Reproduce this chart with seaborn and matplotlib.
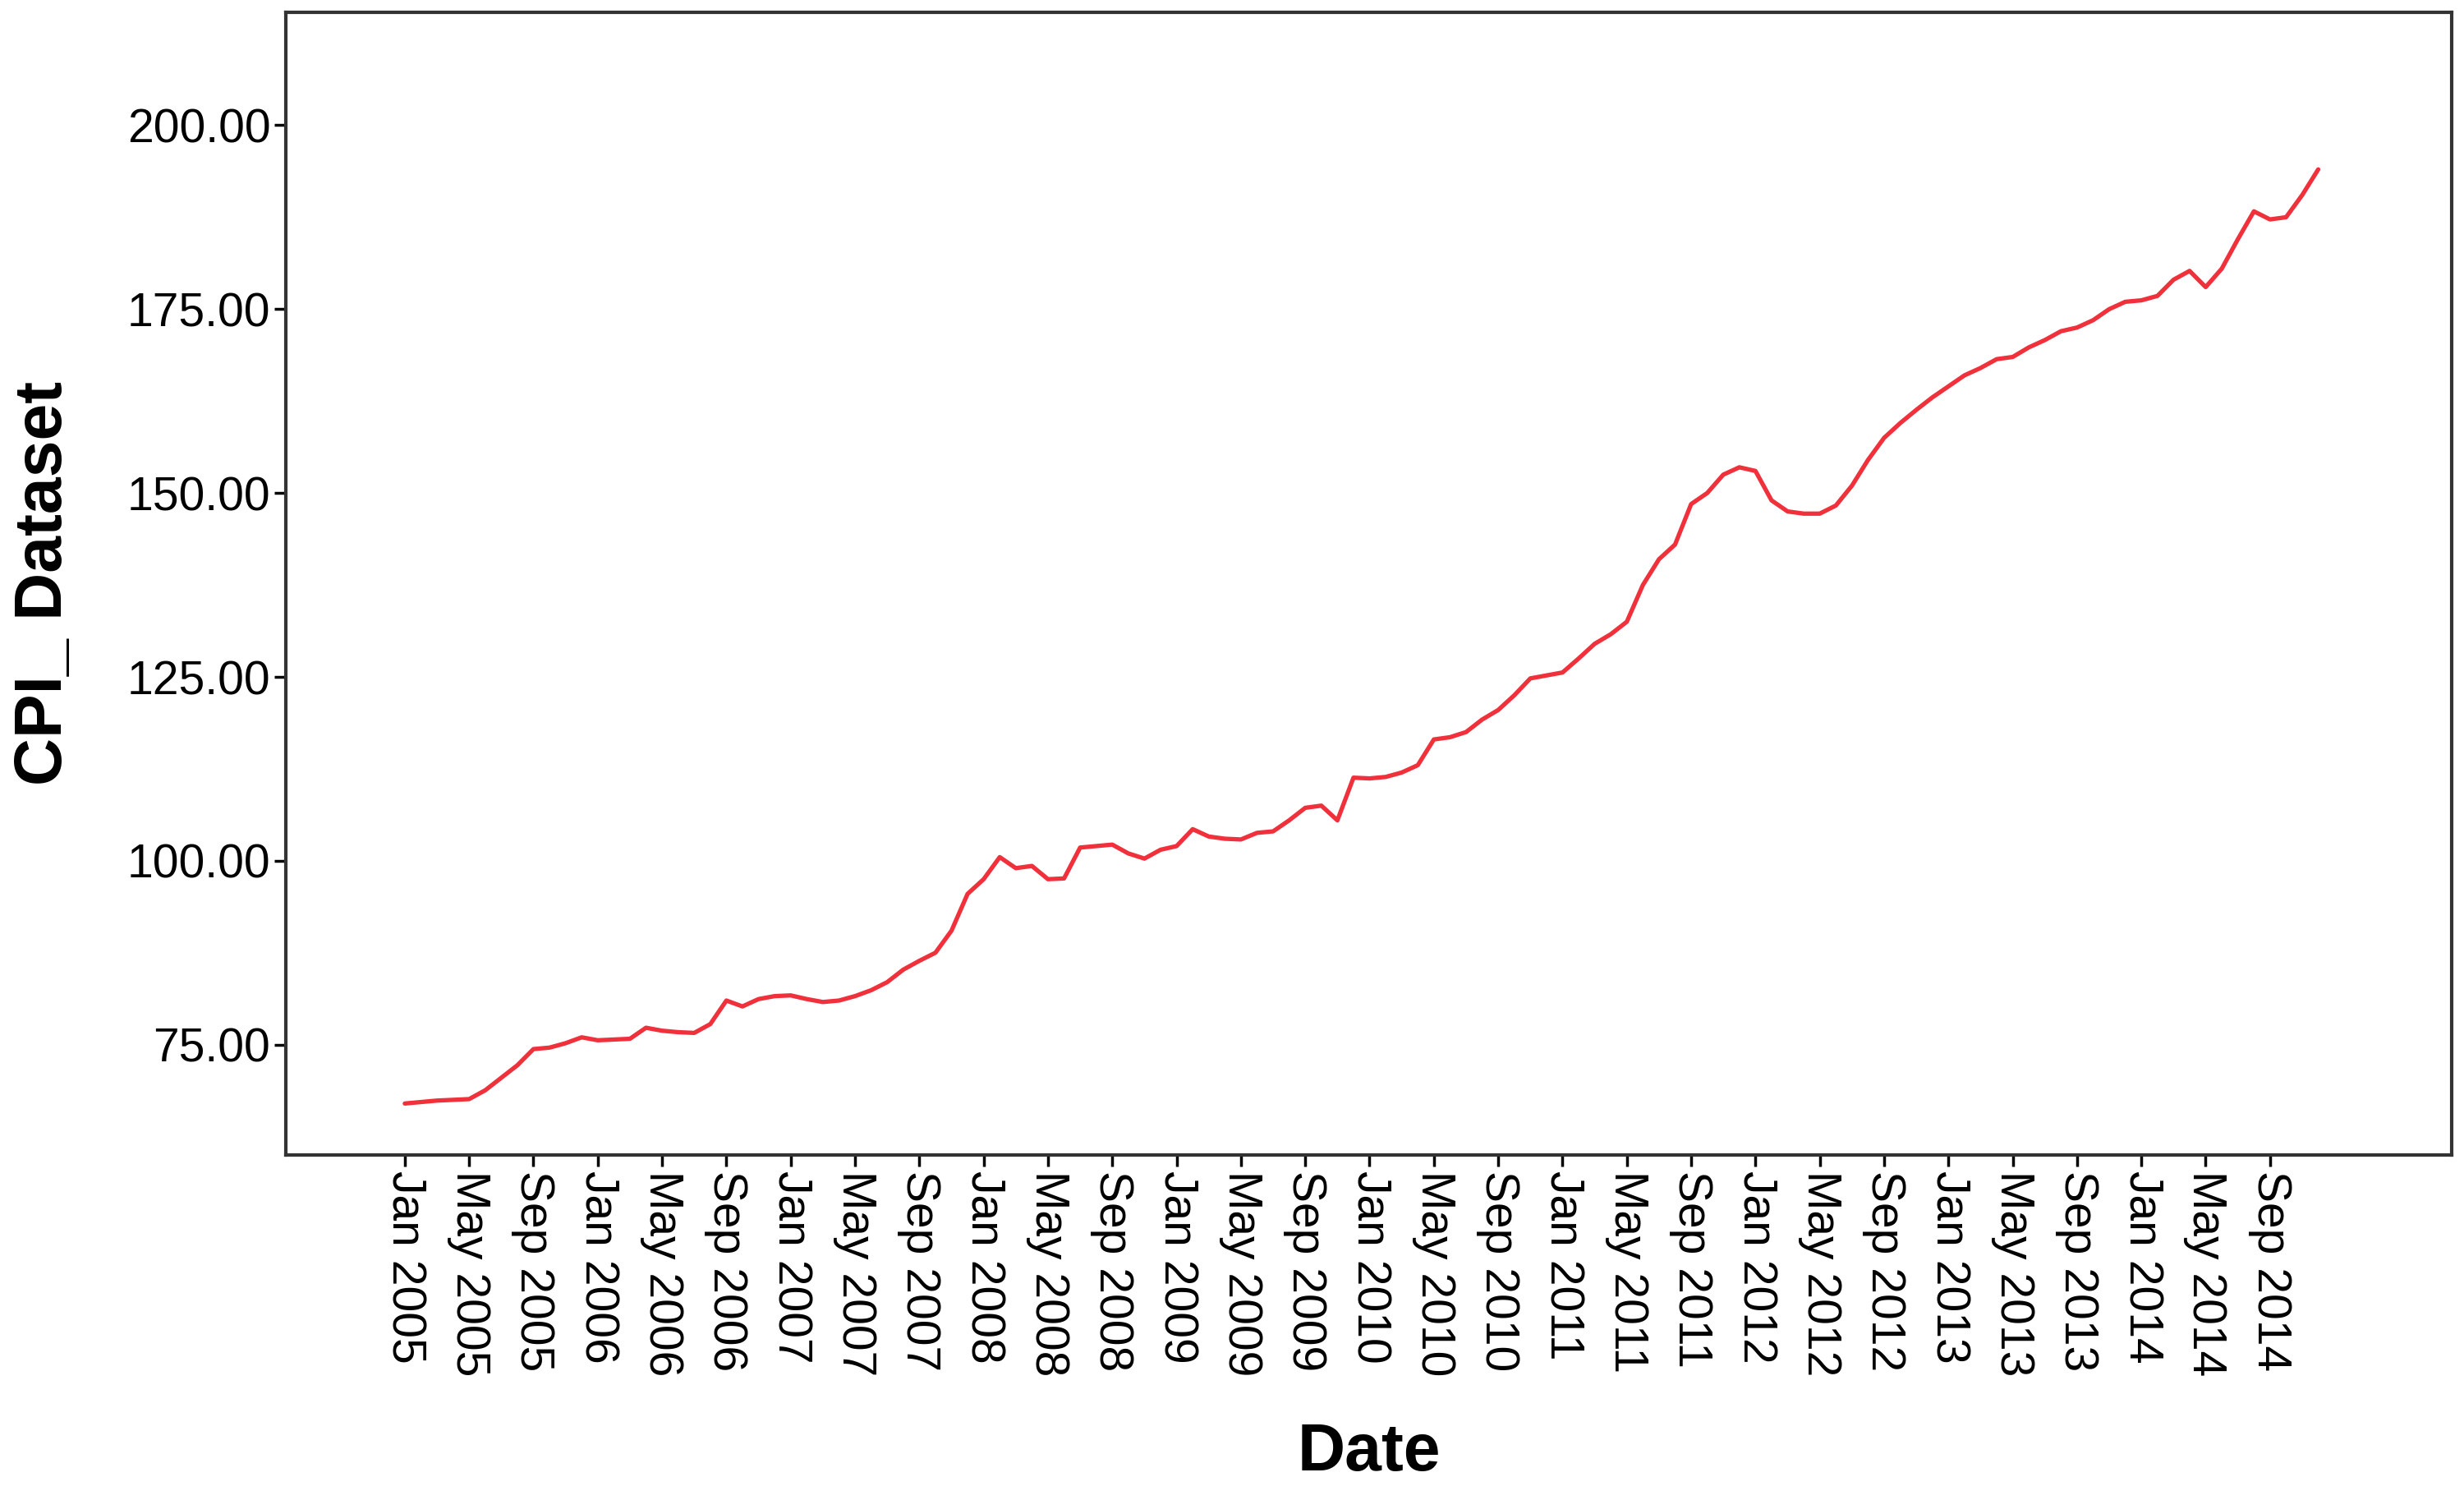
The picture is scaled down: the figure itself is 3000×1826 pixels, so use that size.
import numpy as np
import pandas as pd
import matplotlib
matplotlib.use("Agg")
import matplotlib.pyplot as plt
import seaborn as sns

sns.set_style("white")
plt.rcParams['font.family'] = ['Liberation Sans', 'DejaVu Sans']

# Valori mensili CPI, Jan 2005 - Dec 2014
cpi_values = [
    67.0, 67.2, 67.4, 67.5, 67.6, 68.8, 70.5, 72.2, 74.4, 74.6, 75.2, 76.0,
    75.6, 75.7, 75.8, 77.3, 76.9, 76.7, 76.6, 77.8, 81.0, 80.2, 81.2, 81.6,
    81.7, 81.2, 80.8, 81.0, 81.6, 82.4, 83.5, 85.2, 86.4, 87.5, 90.5, 95.5,
    97.5, 100.5, 99.0, 99.3, 97.5, 97.6, 101.8, 102.0, 102.2, 101.0, 100.3, 101.5,
    102.0, 104.3, 103.3, 103.0, 102.9, 103.8, 104.0, 105.5, 107.2, 107.5, 105.5, 111.3,
    111.2, 111.4, 112.0, 113.0, 116.5, 116.8, 117.5, 119.2, 120.5, 122.5, 124.8, 125.2,
    125.6, 127.5, 129.5, 130.8, 132.5, 137.5, 141.0, 143.0, 148.5, 150.0, 152.5, 153.5,
    153.0, 149.0, 147.5, 147.2, 147.2, 148.3, 151.0, 154.5, 157.5, 159.5, 161.3, 163.0,
    164.5, 166.0, 167.0, 168.2, 168.5, 169.8, 170.8, 172.0, 172.5, 173.5, 175.0, 176.0,
    176.2, 176.8, 179.0, 180.2, 178.0, 180.5, 184.5, 188.3, 187.2, 187.5, 190.5, 194.0,
]
dates = pd.date_range('2005-01-01', periods=len(cpi_values), freq='MS')
y_ticks = [75, 100, 125, 150, 175, 200]

data = pd.DataFrame({'idx': np.arange(len(cpi_values)), 'cpi': cpi_values})

fig = plt.figure(figsize=(30, 18.26), dpi=100)
ax = fig.add_axes([0.116, 0.230, 0.879, 0.762])
sns.lineplot(data=data, x='idx', y='cpi', color='#f0303a', linewidth=3.8, ax=ax)

tick_idx = list(range(0, len(cpi_values), 4))
ax.set_xticks(tick_idx)
ax.set_xticklabels([dates[i].strftime('%b %Y') for i in tick_idx], rotation=270,
                   fontsize=41, va='top', ha='center')
ax.set_yticks(y_ticks)
ax.set_yticklabels([f'{v:.2f}' for v in y_ticks], fontsize=41)
ax.set_xlim(-7.4, 127.3)
ax.set_ylim(60.0, 215.4)

ax.tick_params(axis='both', direction='out', length=10, width=2.5, color='black',
               bottom=True, left=True, labelcolor='black')
for s in ax.spines.values():
    s.set_linewidth(3)
    s.set_color('#333333')

ax.set_xlabel('Date', fontsize=58, fontweight='bold', labelpad=40, color='black')
ax.set_ylabel('CPI_ Dataset', fontsize=58, fontweight='bold', labelpad=45, color='black')

fig.savefig('out.png', dpi=100)
